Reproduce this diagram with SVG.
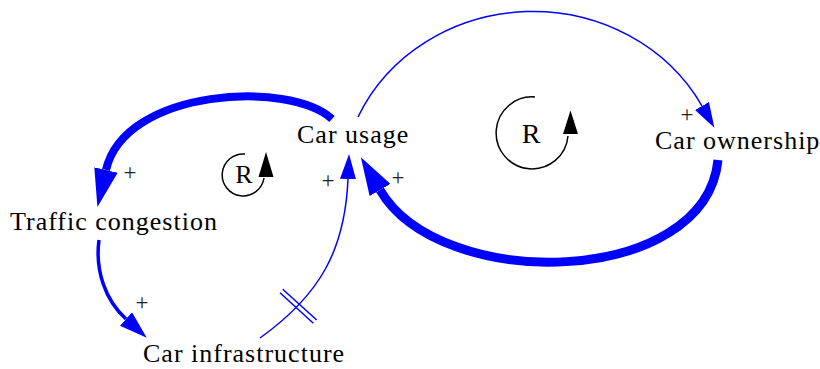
<svg xmlns="http://www.w3.org/2000/svg" width="820" height="369" viewBox="0 0 820 369">
<style>
.lbl{font-family:"Liberation Serif","Times New Roman",serif;font-size:26px;fill:#000;letter-spacing:1px}
.pol{font-family:"Liberation Serif","Times New Roman",serif;font-size:23px;fill:#222;text-anchor:middle}
.rl{font-family:"Liberation Serif","Times New Roman",serif;font-size:26px;fill:#000;text-anchor:middle}
.edge{fill:none;stroke:#0000FF}
.loop{fill:none;stroke:#000;stroke-width:1.5}
</style>
<defs>
<marker id="ahThick" markerUnits="userSpaceOnUse" markerWidth="40" markerHeight="24" refX="0" refY="12" orient="auto">
<path d="M0,0 L38,12 L0,24 z" fill="#0000FF"/>
</marker>
<marker id="ahMid" markerUnits="userSpaceOnUse" markerWidth="30" markerHeight="18" refX="0" refY="9" orient="auto">
<path d="M0,0 L28,9 L0,18 z" fill="#0000FF"/>
</marker>
<marker id="ahThin" markerUnits="userSpaceOnUse" markerWidth="26" markerHeight="16" refX="0" refY="8" orient="auto">
<path d="M0,0 L25,8 L0,16 z" fill="#0000FF"/>
</marker>
</defs>
<g id="connectors">
<path id="e_usage_congestion" class="edge" stroke-width="8" d="M332,119 C290,80 125,88 106,170" marker-end="url(#ahThick)"/>
<path id="e_congestion_infra" class="edge" stroke-width="3.5" d="M99,240 C95,270 105,300 126,319" marker-end="url(#ahMid)"/>
<path id="e_infra_usage" class="edge" stroke-width="1.5" d="M260,338 C320,295 345,250 348,179" marker-end="url(#ahThin)"/>
<path id="delay1" class="edge" stroke-width="1.5" d="M280,292.7 L313.3,323.3"/>
<path id="delay2" class="edge" stroke-width="1.5" d="M282.7,289.3 L316.7,320"/>
<path id="e_usage_ownership" class="edge" stroke-width="1.5" d="M358,117 A191.5,178 0 0 1 702,106" marker-end="url(#ahThin)"/>
<path id="e_ownership_usage" class="edge" stroke-width="9" d="M718,160 C705,288 440,293 380,190" marker-end="url(#ahThick)"/>
<text class="pol" x="130" y="180">+</text>
<text class="pol" x="142" y="310">+</text>
<text class="pol" x="328" y="188">+</text>
<text class="pol" x="398" y="185">+</text>
<text class="pol" x="687" y="122">+</text>
</g>
<g id="loop_small">
<path class="loop" d="M245,154 A21,21 0 1 0 264,178"/>
<polygon points="266,152 258.5,177 273.5,177" fill="#000"/>
<text class="rl" x="244" y="183">R</text>
</g>
<g id="loop_big">
<path class="loop" d="M535,97 A36,36 0 1 0 568,136"/>
<polygon points="570.5,110.5 563,134 578,134" fill="#000"/>
<text class="rl" x="531" y="143" style="font-size:28px">R</text>
</g>
<g id="n_usage"><text class="lbl" x="297" y="143">Car usage</text></g>
<g id="n_congestion"><text class="lbl" x="10" y="230">Traffic congestion</text></g>
<g id="n_infra"><text class="lbl" x="143" y="362">Car infrastructure</text></g>
<g id="n_ownership"><text class="lbl" x="655" y="149">Car ownership</text></g>
</svg>
